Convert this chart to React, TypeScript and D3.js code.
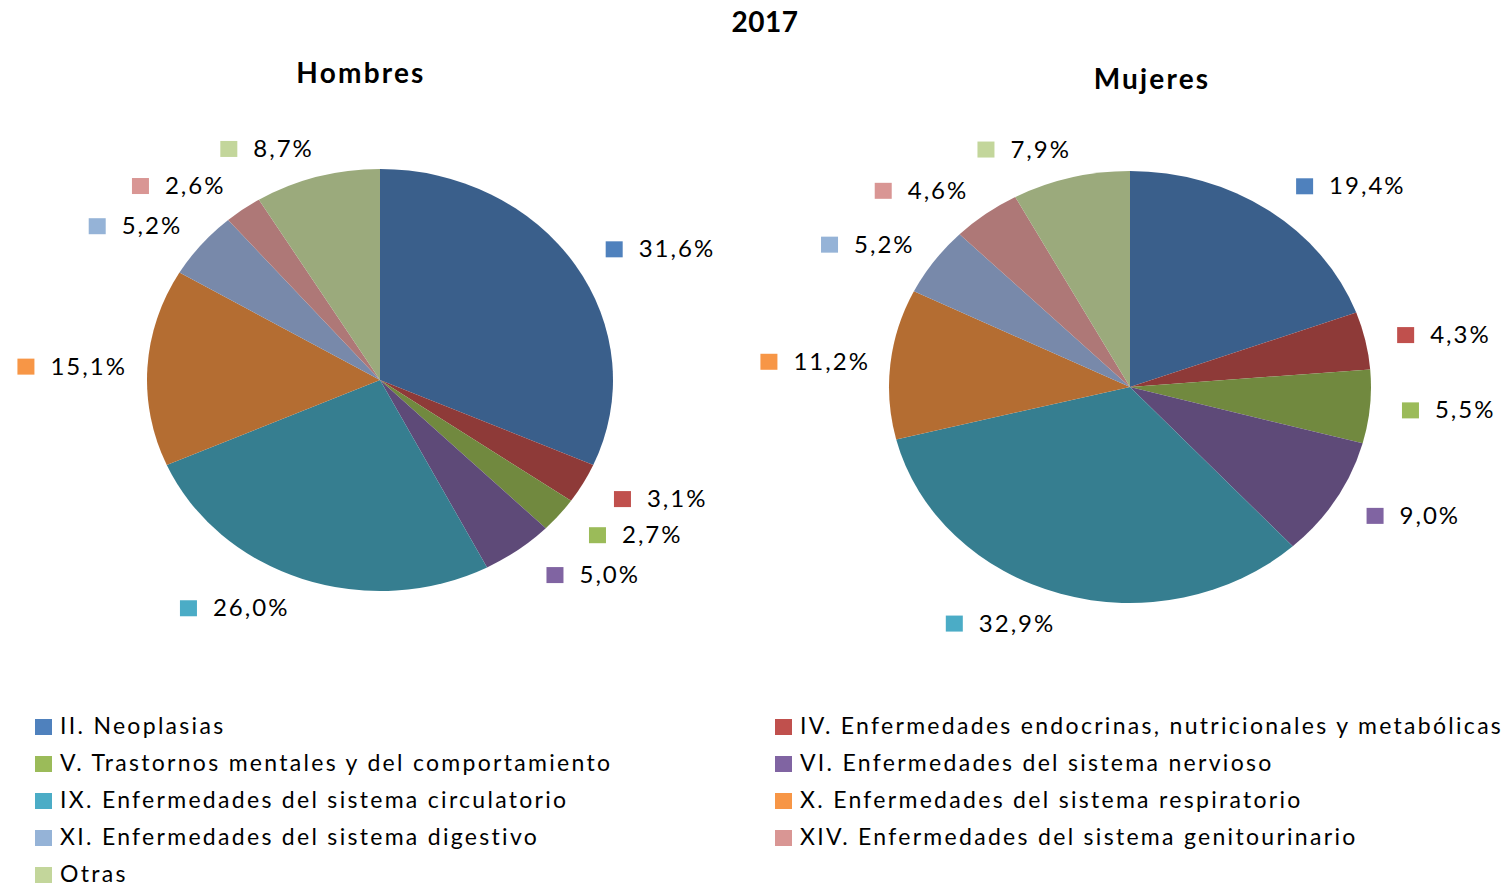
import React from "react";
import * as d3 from "d3";

// categories (cause of death groups), in pie order starting at 12 o'clock
const categories = [
  "II. Neoplasias",
  "IV. Enfermedades endocrinas, nutricionales y metabólicas",
  "V. Trastornos mentales y del comportamiento",
  "VI. Enfermedades del sistema nervioso",
  "IX. Enfermedades del sistema circulatorio",
  "X. Enfermedades del sistema respiratorio",
  "XI. Enfermedades del sistema digestivo",
  "XIV. Enfermedades del sistema genitourinario",
  "Otras",
];

const hombres = [31.6, 3.1, 2.7, 5.0, 26.0, 15.1, 5.2, 2.6, 8.7];
const mujeres = [19.4, 4.3, 5.5, 9.0, 32.9, 11.2, 5.2, 4.6, 7.9];

// slice fills (darker) and legend/label key fills (lighter)
const sliceColors = ["#3a5f8b", "#8e3a38", "#71893f", "#5e4a78", "#367e90", "#b46d32", "#7889aa", "#ae7877", "#9baa7c"];
const keyColors = ["#4f81bd", "#c0504d", "#9bbb59", "#8064a2", "#4bacc6", "#f79646", "#95b3d7", "#d99694", "#c3d69b"];

const W = 1503;
const H = 886;
const FONT = "Lato, 'Open Sans', sans-serif";

const fmt = (v: number) => v.toFixed(1).replace(".", ",") + "%";

function Pie({ values, title, cx, cy, rx, ry, titleX, titleY }: any) {
  const pieGen = d3.pie<number>().sort(null).value((d) => d);
  const arcGen = d3.arc<d3.PieArcDatum<number>>().innerRadius(0).outerRadius(ry);
  const arcs = pieGen(values);
  const sx = rx / ry;

  return (
    <g>
      <text x={titleX} y={titleY} textAnchor="middle" fontFamily={FONT} fontWeight="bold" fontSize={28} letterSpacing={2.2}>
        {title}
      </text>
      <g transform={`translate(${cx},${cy}) scale(${sx},1)`}>
        {arcs.map((a, i) => (
          <path key={i} d={arcGen(a) || ""} fill={sliceColors[i]} />
        ))}
      </g>
      {arcs.map((a, i) => {
        const mid = (a.startAngle + a.endAngle) / 2;
        const s = Math.sin(mid);
        const c = Math.cos(mid);
        const label = fmt(values[i]);
        const tw = label.length * 15.2;
        const bw = 33 + tw;
        // labels close to the vertical axis get pulled toward the centre line
        const pull = 30 * Math.max(0, (Math.abs(c) - 0.94) / 0.06);
        const px = cx + (rx + 9) * s;
        const lx = s >= 0 ? px + 23 - pull : px - 12 + pull - bw;
        const ly = cy - (ry + 30) * c + 1;
        return (
          <g key={i}>
            <rect x={lx} y={ly - 8} width={17} height={16} fill={keyColors[i]} />
            <text x={lx + 33} y={ly + 8} fontFamily={FONT} fontSize={24} letterSpacing={2} fill="#000">
              {label}
            </text>
          </g>
        );
      })}
    </g>
  );
}

export default function App() {
  const rowY = d3.scaleLinear().domain([0, 4]).range([727, 875]);
  const colX = [35, 775];

  return (
    <svg width={W} height={H} style={{ position: "absolute", left: 0, top: 0, background: "#fff" }}>
      <rect width={W} height={H} fill="#fff" />
      <text x={765} y={32} textAnchor="middle" fontFamily={FONT} fontWeight="bold" fontSize={28} letterSpacing={0.5}>
        2017
      </text>
      <Pie values={hombres} title="Hombres" cx={380} cy={380} rx={233} ry={211} titleX={361} titleY={83} />
      <Pie values={mujeres} title="Mujeres" cx={1130} cy={387} rx={241} ry={216} titleX={1152} titleY={89} />
      {categories.map((name, i) => {
        const x = colX[i % 2];
        const y = rowY(Math.floor(i / 2));
        return (
          <g key={i}>
            <rect x={x} y={y - 8} width={17} height={16} fill={keyColors[i]} />
            <text x={x + 25} y={y + 7} fontFamily={FONT} fontSize={23} letterSpacing={2.3} fill="#000">
              {name}
            </text>
          </g>
        );
      })}
    </svg>
  );
}
